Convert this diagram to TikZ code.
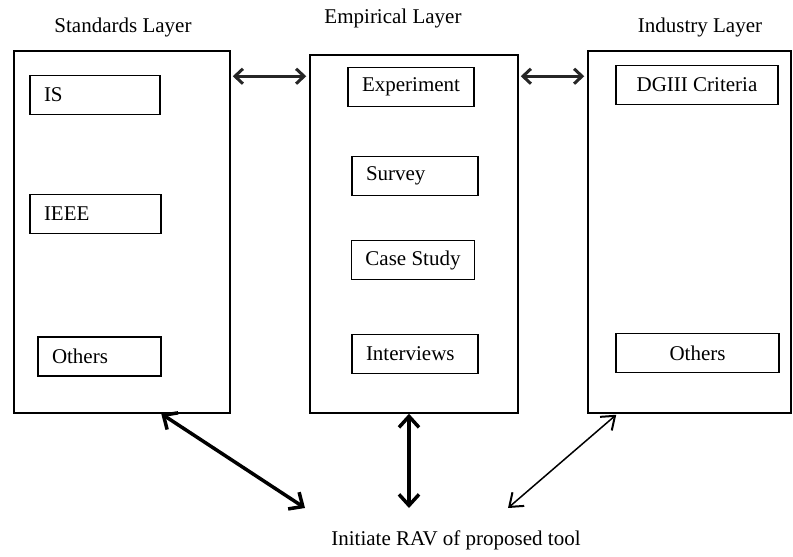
\documentclass[tikz,border=0pt]{standalone}
\usepackage{fontspec}
\setmainfont{Liberation Serif}
\usepackage{tikz}
\usetikzlibrary{arrows.meta, positioning, calc}

\begin{document}
\begin{tikzpicture}[
        x=1pt, y=-1pt,
        font=\fontsize{21}{25}\selectfont,
        layerbox/.style={rectangle, draw, line width=1.5pt, inner sep=0pt},
        itembox/.style={rectangle, draw, line width=1.2pt, minimum height=39pt,
                inner xsep=14pt, inner ysep=0pt},
        leftbox/.style={itembox, align=left, text width=#1},
        layerlab/.style={inner sep=0pt},
        linkarrow/.style={{Straight Barb[length=8pt, width=15pt, line width=3pt]}-{Straight Barb[length=8pt, width=15pt, line width=3pt]},
                line width=3pt, black!85},
        bigarrow/.style={{Straight Barb[length=11pt, width=20pt]}-{Straight Barb[length=11pt, width=20pt]},
                line width=3.5pt},
        thinarrow/.style={{Straight Barb[length=12pt, width=18pt, line width=2pt]}-{Straight Barb[length=12pt, width=18pt, line width=2pt]},
                line width=1.5pt}, ]

        \useasboundingbox (0,0) rectangle (793,557);

        % === LAYERS ===
        \node[layerbox, minimum width=216pt, minimum height=362pt] (std) at (122,232) {};
        \node[layerbox, minimum width=208pt, minimum height=358pt] (emp) at (414,234) {};
        \node[layerbox, minimum width=203pt, minimum height=362pt] (ind) at (689.5,232) {};

        \node[layerlab] (stdlab) at (123,27) {Standards Layer};
        \node[layerlab] (emplab) at (393,18) {Empirical Layer};
        \node[layerlab] (indlab) at (700,27) {Industry Layer};

        % Standards items
        \node[leftbox=102pt] (is) at (95,95) {IS};
        \node[leftbox=103pt] (ieee) at (95.5,214) {IEEE};
        \node[leftbox=95pt] (stdoth) at (99.5,356.5) {Others};

        % Empirical items
        \node[itembox, minimum width=126pt] (exper) at (411,87) {Experiment};
        \node[leftbox=98pt] (survey) at (415,176) {Survey};
        \node[itembox, minimum width=122pt] (casest) at (413,260) {Case Study};
        \node[leftbox=98pt] (interv) at (415,354) {Interviews};

        % Industry items
        \node[itembox, minimum width=162pt] (dgiii) at (697,85) {DGIII Criteria};
        \node[itembox, minimum width=163pt] (indoth) at (697.5,353) {Others};

        % === LINKS BETWEEN LAYERS ===
        \draw[linkarrow] ([xshift=2pt, yshift=-26pt]std.north east) -- ([xshift=-3pt, yshift=-22pt]emp.north west);
        \draw[linkarrow] ([xshift=2pt, yshift=-22pt]emp.north east) -- ([xshift=-3pt, yshift=-26pt]ind.north west);

        % === RAV ===
        \node[layerlab] (rav) at (456,540) {Initiate RAV of proposed tool};
        \coordinate (ravL) at (305,508);
        \coordinate (ravM) at (409,508);
        \coordinate (ravR) at (508,508);

        \draw[bigarrow] ([xshift=148pt]std.south west) -- (ravL);
        \draw[bigarrow] ([xshift=-5pt]emp.south) -- (ravM);
        \draw[thinarrow] ([xshift=29pt, yshift=-1pt]ind.south west) -- (ravR);
    \end{tikzpicture}
\end{document}
